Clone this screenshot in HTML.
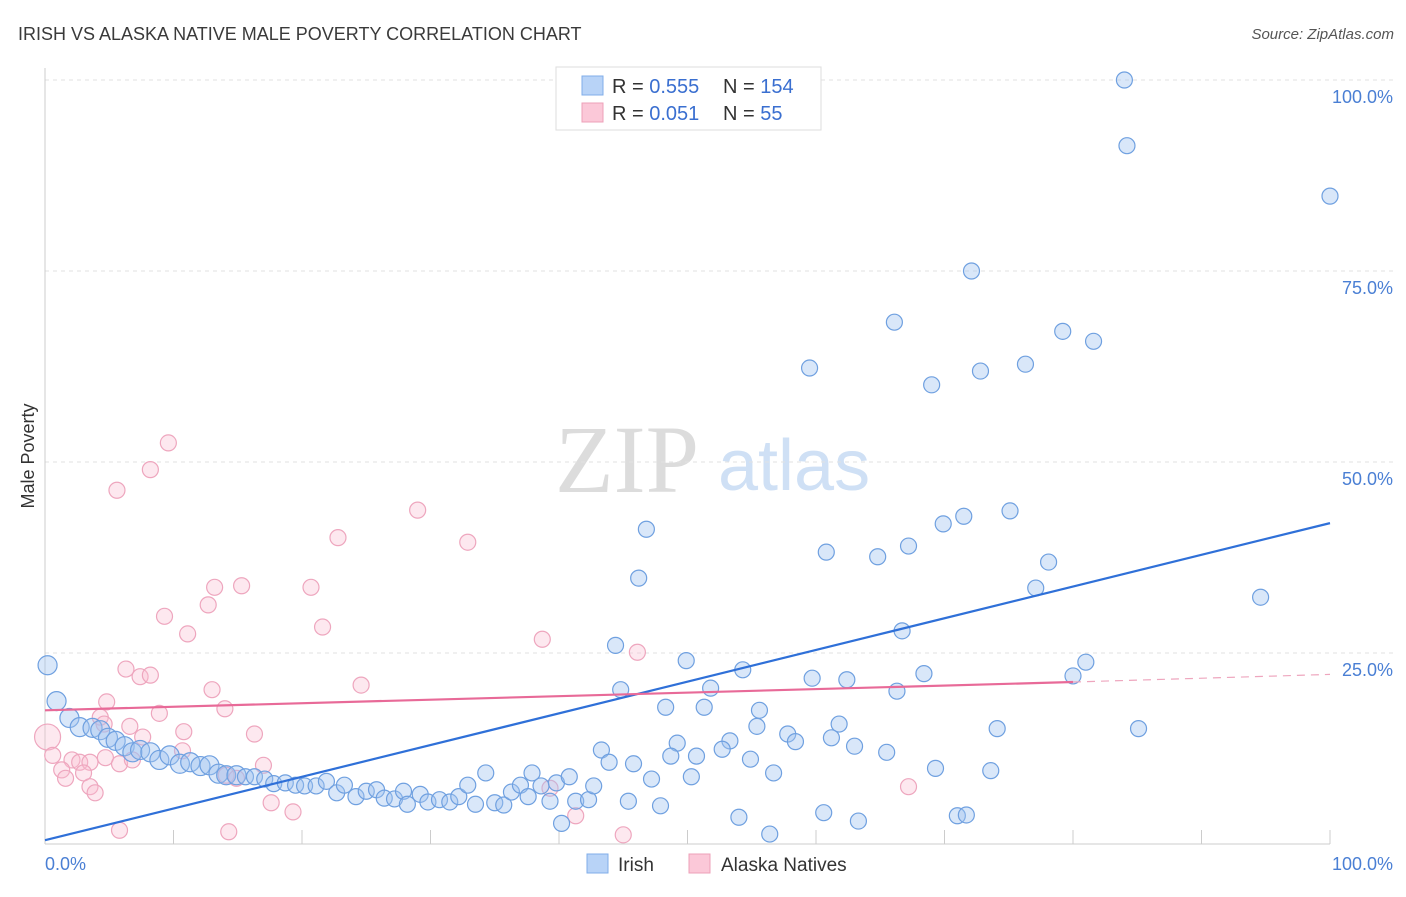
<!DOCTYPE html>
<html><head><meta charset="utf-8"><style>
body{margin:0;background:#fff;font-family:"Liberation Sans",sans-serif;}
svg text{font-family:"Liberation Sans",sans-serif;}
</style></head><body>
<svg id="c" width="1406" height="892" xmlns="http://www.w3.org/2000/svg">
<text x="18" y="40" font-size="18" fill="#3a3a3a">IRISH VS ALASKA NATIVE MALE POVERTY CORRELATION CHART</text>
<text x="1394" y="39" font-size="15" fill="#555" font-style="italic" text-anchor="end">Source: ZipAtlas.com</text>
<text x="34" y="456" font-size="18" fill="#333" text-anchor="middle" transform="rotate(-90 34 456)">Male Poverty</text>
<text x="555" y="492" font-size="96" fill="#dcdcdc" font-family="Liberation Serif" style="font-family:'Liberation Serif',serif">ZIP</text>
<text x="718" y="490" font-size="72" fill="#cfe0f5">atlas</text>
<g id="grid"></g>
<g id="pts"></g>
<g id="lines"></g>
<g>
<rect x="556" y="67" width="265" height="63" fill="#fff" stroke="#ddd"/>
<rect x="582" y="76" width="21" height="19" fill="#b8d3f7" stroke="#80aee8"/>
<rect x="582" y="103" width="21" height="19" fill="#fbc8d8" stroke="#eea0b8"/>
<text x="612" y="93" font-size="20" fill="#333">R = <tspan fill="#3a6fd0">0.555</tspan></text>
<text x="723" y="93" font-size="20" fill="#333">N = <tspan fill="#3a6fd0">154</tspan></text>
<text x="612" y="120" font-size="20" fill="#333">R = <tspan fill="#3a6fd0"> 0.051</tspan></text>
<text x="723" y="120" font-size="20" fill="#333">N = <tspan fill="#3a6fd0">  55</tspan></text>
</g>
<g>
<rect x="587" y="854" width="21" height="19" fill="#b8d3f7" stroke="#80aee8"/>
<text x="618" y="871" font-size="19" fill="#333">Irish</text>
<rect x="689" y="854" width="21" height="19" fill="#fbc8d8" stroke="#eea0b8"/>
<text x="721" y="871" font-size="19" fill="#333">Alaska Natives</text>
</g>
</svg>
<script>
const irishX=[84,84.2,100,72.1,66.1,79.2,81.6,59.5,69,72.8,76.3,46.8,75.1,71.5,69.9,67.2,64.8,60.8,78.1,46.2,77.1,94.6,66.7,44.4,49.9,54.3,81,80,68.4,59.7,62.4,66.3,51.8,44.8,48.3,51.3,55.6,55.4,61.8,74.1,85.1,57.8,58.4,61.2,63,65.5,53.3,49.2,52.7,50.7,48.7,54.9,43.3,43.9,45.8,56.7,50.3,47.2,69.3,73.6,45.4,47.9,54,60.6,63.3,56.4,71,71.7,40.2,
0.2,0.9,1.9,2.7,3.7,4.3,4.9,5.5,6.2,6.8,7.4,8.2,8.9,9.7,10.5,11.3,12.1,12.8,13.5,14.1,14.9,15.6,16.3,17.1,17.8,18.7,19.5,20.2,21.1,21.9,22.7,23.3,24.2,25,25.8,26.4,27.2,27.9,28.2,29.2,29.8,30.7,31.5,32.2,32.9,33.5,34.3,35,35.7,36.3,37,37.6,37.9,38.6,39.3,39.8,40.8,41.3,42.3,42.7];
const irishY=[100,91.4,84.8,75,68.3,67.1,65.8,62.3,60.1,61.9,62.8,41.2,43.6,42.9,41.9,39,37.6,38.2,36.9,34.8,33.5,32.3,27.9,26,24,22.8,23.8,22,22.3,21.7,21.5,20,20.4,20.2,17.9,17.9,17.5,15.4,15.7,15.1,15.1,14.4,13.4,13.9,12.8,12,13.5,13.2,12.4,11.5,11.5,11.1,12.3,10.7,10.5,9.3,8.8,8.5,9.9,9.6,5.6,5,3.5,4.1,3,1.3,3.7,3.8,2.7,
23.4,18.7,16.5,15.3,15.2,14.9,13.9,13.5,12.8,12,12.3,12,11,11.6,10.5,10.7,10.2,10.3,9.2,9,9,8.8,8.8,8.5,7.9,8,7.7,7.6,7.6,8.2,6.7,7.7,6.2,6.9,7.1,6,5.9,6.9,5.2,6.5,5.5,5.8,5.5,6.2,7.7,5.2,9.3,5.4,5.1,6.8,7.7,6.2,9.3,7.6,5.6,8,8.8,5.6,5.8,7.6];
const akX=[9.6,8.2,5.6,29,22.8,32.9,13.2,15.3,20.7,12.7,9.3,11.1,21.6,38.7,46.1,6.3,7.4,8.2,24.6,13,4.8,14,8.9,4.3,4.6,6.6,10.8,16.3,7.6,0.2,0.6,2.1,2.7,3.5,4.7,5.8,6.8,1.3,3,1.6,3.5,3.9,10.7,14.1,14.9,17,17.6,19.3,5.8,14.3,39.3,41.3,45,67.2];
const akY=[52.5,49,46.3,43.7,40.1,39.5,33.6,33.8,33.6,31.3,29.8,27.5,28.4,26.8,25.1,22.9,21.9,22.1,20.8,20.2,18.6,17.7,17.1,16.6,15.7,15.4,14.7,14.4,14,14,11.6,11,10.7,10.7,11.3,10.5,11,9.7,9.3,8.6,7.5,6.7,12.2,9,8.6,10.3,5.4,4.2,1.8,1.6,7.3,3.7,1.2,7.5];
const xTicks=[0,10,20,30,40,50,60,70,80,90,100];
const yTicks=[25,50,75,100];
const yTickLabels=["25.0%","50.0%","75.0%","100.0%"];
const irishFit=[0.5,42];
const akFit=[17.5,21.2,22.2];
const sx=v=>45+v*12.85, sy=v=>844-v*7.64;
const NS="http://www.w3.org/2000/svg";
function mk(t,a,p){const e=document.createElementNS(NS,t);for(const k in a)e.setAttribute(k,a[k]);p.appendChild(e);return e;}
const g=document.getElementById('grid');
yTicks.forEach((v,i)=>{
 const l=mk('line',{x1:45,x2:1394,y1:sy(v),y2:sy(v),stroke:'#e2e2e2','stroke-dasharray':'4,4'},g);
 
 
 const t=mk('text',{x:1393,y:sy(v)+23,'font-size':18,fill:'#4a7fd4','text-anchor':'end'},g);
 t.textContent=yTickLabels[i];
 
 
});
const ax=mk('line',{x1:45,x2:1330,y1:844,y2:844,stroke:'#ccc'},g);


const ay=mk('line',{x1:45,x2:45,y1:68,y2:844,stroke:'#ccc'},g);


xTicks.forEach(v=>{const l=mk('line',{x1:sx(v),x2:sx(v),y1:830,y2:844,stroke:'#ccc'},g);
 
 });
const t0=mk('text',{x:45,y:870,'font-size':18,fill:'#4a7fd4'},g);t0.textContent='0.0%';


const t1=mk('text',{x:1393,y:870,'font-size':18,fill:'#4a7fd4','text-anchor':'end'},g);t1.textContent='100.0%';


const p=document.getElementById('pts');
akX.forEach((x,i)=>{const c=mk('circle',{cx:sx(x),cy:sy(akY[i]),r:i==29?13:8,fill:'rgba(248,190,208,0.35)',stroke:'#eea6be','stroke-width':1.2},p);
 
 });
irishX.forEach((x,i)=>{const c=mk('circle',{cx:sx(x),cy:sy(irishY[i]),r:(x<15?9.5:8),fill:'rgba(160,196,240,0.4)',stroke:'#6fa0e0','stroke-width':1.2},p);
 
 });
const L=document.getElementById('lines');
const bl=mk('line',{x1:sx(0),y1:sy(irishFit[0]),x2:sx(100),y2:sy(irishFit[1]),stroke:'#2f70d8','stroke-width':2.2},L);


const pl=mk('line',{x1:sx(0),y1:sy(akFit[0]),x2:sx(80),y2:sy(akFit[1]),stroke:'#e86a98','stroke-width':2.2},L);


const pd=mk('line',{x1:sx(80),y1:sy(akFit[1]),x2:sx(100),y2:sy(akFit[2]),stroke:'#eea6be','stroke-width':1.2,'stroke-dasharray':'8,6'},L);


</script>
</body></html>
